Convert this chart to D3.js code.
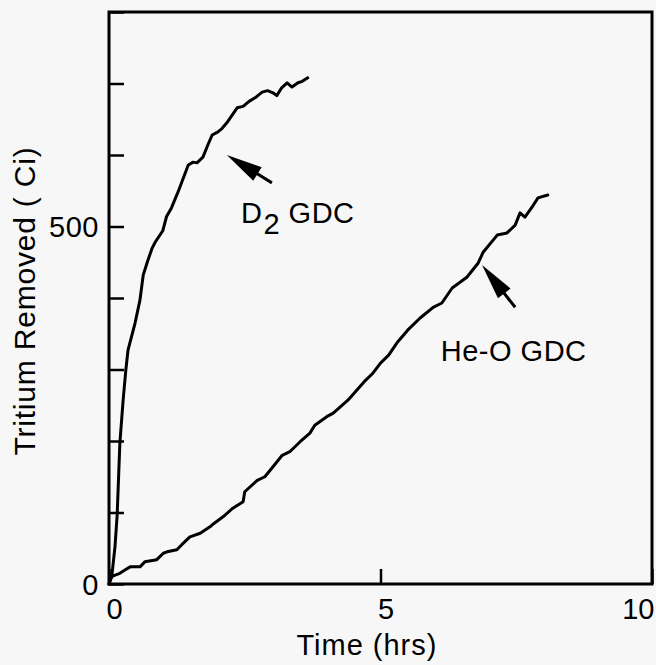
<!DOCTYPE html>
<html>
<head>
<meta charset="utf-8">
<script src="https://cdn.jsdelivr.net/npm/d3@7/dist/d3.min.js"></script>
<style>
  html, body { margin: 0; padding: 0; background: #f7f7f7; }
  svg { display: block; }
  text { font-family: "Liberation Sans", Arial, Helvetica, sans-serif; fill: #000; }
</style>
</head>
<body>
<script>
// ---- Data (time in hrs, tritium removed in Ci) ----
const d2Series = [
  [0,0],[0.05,10],[0.11,52],[0.15,96],[0.2,197],[0.26,257],[0.31,299],[0.35,327],
  [0.48,365],[0.57,397],[0.63,432],[0.7,449],[0.79,469],[0.85,478],[0.99,494],
  [1.06,514],[1.15,526],[1.27,548],[1.31,556],[1.46,586],[1.55,590],[1.62,589],
  [1.73,597],[1.82,614],[1.9,628],[2.0,632],[2.08,637],[2.17,645],[2.36,666],
  [2.47,668],[2.58,675],[2.69,680],[2.82,688],[2.92,690],[3.02,687],[3.09,683],
  [3.18,694],[3.28,701],[3.37,695],[3.48,701],[3.56,703],[3.66,708]
];
const heoSeries = [
  [0,0],[0.04,10],[0.1,12],[0.2,15],[0.3,20],[0.39,24],[0.57,24],[0.66,31],[0.88,34],
  [1.0,43],[1.07,45],[1.25,48],[1.34,55],[1.49,66],[1.68,71],[1.86,80],[1.92,84],
  [2.1,94],[2.28,106],[2.47,115],[2.5,129],[2.73,145],[2.87,150],[3.02,164],
  [3.19,180],[3.33,185],[3.52,199],[3.7,211],[3.79,222],[4.01,234],[4.13,239],
  [4.4,257],[4.55,270],[4.7,283],[4.85,294],[5.0,309],[5.15,320],[5.3,337],
  [5.5,355],[5.73,372],[5.97,387],[6.13,393],[6.32,414],[6.59,429],[6.8,449],
  [6.89,464],[7.15,488],[7.33,491],[7.48,502],[7.57,519],[7.66,513],[7.79,527],
  [7.9,540],[8.08,544]
];
const xTicks = [0, 5, 10];
const yTicks = [0, 100, 200, 300, 400, 500, 600, 700, 800];
const yTickLabels = {0: "0", 500: "500"};
const xTitle = "Time (hrs)";
const yTitle = "Tritium Removed ( Ci)";
// annotations: arrow tip, arrow tail, label anchor (data units)
const annotations = [
  { tip: [2.17, 600], tail: [3.0, 561], at: [2.43, 505], main: "D", sub: "2", rest: " GDC" },
  { tip: [6.87, 446], tail: [7.48, 387], at: [6.11, 312], main: "He-O GDC", sub: "", rest: "" }
];

// ---- Layout ----
const W = 656, H = 665;
const margin = { top: 12, right: 4, bottom: 81, left: 109 };
const iw = W - margin.left - margin.right;
const ih = H - margin.top - margin.bottom;

const svg = d3.select("body").append("svg").attr("width", W).attr("height", H);
svg.append("rect").attr("width", W).attr("height", H).attr("fill", "#f7f7f7");
const g = svg.append("g").attr("transform", `translate(${margin.left},${margin.top})`);

const x = d3.scaleLinear().domain([0, 10]).range([0, iw]);
const y = d3.scaleLinear().domain([0, 800]).range([ih, 0]);

const fontSize = 29;

// Y axis
const yAxis = g.append("g")
  .call(d3.axisLeft(y).tickValues(yTicks).tickSize(-15).tickPadding(10)
    .tickFormat(d => yTickLabels[d] || ""));
yAxis.select(".domain").remove();
yAxis.selectAll(".tick line").attr("stroke", "#000").attr("stroke-width", 2.5);
yAxis.selectAll(".tick text").attr("font-size", fontSize).attr("font-family", "Liberation Sans, Arial, sans-serif")
  .attr("letter-spacing", 0.5).attr("dy", "0.36em");

// X axis
const xAxis = g.append("g").attr("transform", `translate(0,${ih})`)
  .call(d3.axisBottom(x).tickValues(xTicks).tickSize(-15).tickPadding(14).tickFormat(d3.format("d")));
xAxis.select(".domain").remove();
xAxis.selectAll(".tick line").attr("stroke", "#000").attr("stroke-width", 2.5);
xAxis.selectAll(".tick text").attr("font-size", fontSize).attr("font-family", "Liberation Sans, Arial, sans-serif")
  .attr("dy", "0.71em")
  .attr("dx", d => d === 10 ? 2 : 5)
  .attr("text-anchor", d => d === 10 ? "end" : "middle");

// Frame
g.append("rect").attr("x", 0).attr("y", 0).attr("width", iw).attr("height", ih)
  .attr("fill", "none").attr("stroke", "#000").attr("stroke-width", 3);

// Lines
const line = d3.line().x(d => x(d[0])).y(d => y(d[1]));
[d2Series, heoSeries].forEach(s => {
  g.append("path").datum(s).attr("d", line)
    .attr("fill", "none").attr("stroke", "#000").attr("stroke-width", 3)
    .attr("stroke-linejoin", "round").attr("stroke-linecap", "round");
});

// Annotations
annotations.forEach(a => {
  const tx = x(a.tip[0]), ty = y(a.tip[1]);
  const ex = x(a.tail[0]), ey = y(a.tail[1]);
  const dx = ex - tx, dy = ey - ty, len = Math.hypot(dx, dy);
  const ux = dx / len, uy = dy / len;
  const headLen = 36, headHalf = 8;
  const bx = tx + ux * headLen, by = ty + uy * headLen;
  g.append("line").attr("x1", bx - ux * 4).attr("y1", by - uy * 4).attr("x2", ex).attr("y2", ey)
    .attr("stroke", "#000").attr("stroke-width", 3);
  g.append("path")
    .attr("d", `M${tx},${ty}L${bx - uy * headHalf},${by + ux * headHalf}L${bx + uy * headHalf},${by - ux * headHalf}Z`)
    .attr("fill", "#000");
  const t = g.append("text").attr("x", x(a.at[0])).attr("y", y(a.at[1]))
    .attr("font-size", fontSize).attr("letter-spacing", 0.5);
  t.append("tspan").text(a.main);
  if (a.sub) {
    t.append("tspan").attr("dy", 11).attr("dx", 1).text(a.sub);
    t.append("tspan").attr("dy", -11).text(a.rest);
  }
});

// Axis titles
svg.append("text").attr("x", margin.left + x(4.75)).attr("y", 655)
  .attr("text-anchor", "middle").attr("font-size", fontSize).attr("letter-spacing", 1)
  .text(xTitle);
svg.append("text")
  .attr("transform", `translate(35,${301}) rotate(-90)`)
  .attr("text-anchor", "middle").attr("font-size", 30).attr("letter-spacing", 0.8)
  .text(yTitle);
</script>
</body>
</html>
